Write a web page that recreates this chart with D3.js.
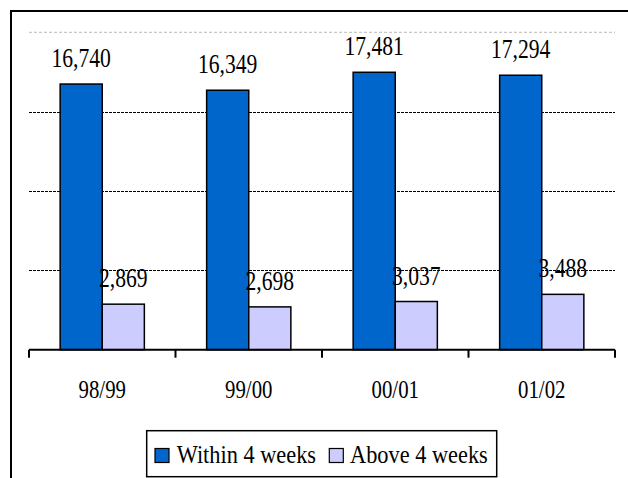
<!DOCTYPE html>
<html><head><meta charset="utf-8">
<script src="https://cdn.jsdelivr.net/npm/d3@7"></script>
<style>body{margin:0;background:#fff}svg{display:block}</style>
</head><body>
<script>
const categories = ["98/99", "99/00", "00/01", "01/02"];
const seriesNames = ["Within 4 weeks", "Above 4 weeks"];
const within4 = [16740, 16349, 17481, 17294];
const above4 = [2869, 2698, 3037, 3488];
const yTicks = [5000, 10000, 15000];
const yMax = 20000;
const colors = ["#0066CC", "#CCCCFF"];

const W = 628, H = 478;
const FONT = '"Liberation Serif"';
const svg = d3.select("body").append("svg").attr("width", W).attr("height", H);

// outer frame (cropped on right/bottom)
svg.append("path").attr("d", `M11,${H+5} L11,11 L${W+5},11`).attr("fill","none").attr("stroke","#000").attr("stroke-width",2);

const x0 = d3.scaleBand().domain(categories).range([29, 615]).paddingInner(0).paddingOuter(0);
const x1 = d3.scaleBand().domain(seriesNames).range([0, x0.bandwidth()]).paddingInner(0).paddingOuter(0.74);
const y = d3.scaleLinear().domain([0, yMax]).range([349.7, 32.3]);

// top light grid
svg.append("line").attr("x1",29).attr("x2",615).attr("y1",y(yMax)).attr("y2",y(yMax))
  .attr("stroke","#bbb").attr("stroke-width",1).attr("stroke-dasharray","3,2");
// grid lines
svg.append("g").selectAll("line").data(yTicks).join("line")
  .attr("x1",29).attr("x2",615).attr("y1",d=>Math.round(y(d))+0.5).attr("y2",d=>Math.round(y(d))+0.5)
  .attr("stroke","#000").attr("stroke-width",1.2).attr("stroke-dasharray","3,1");

const data = categories.map((c,i)=>({cat:c, vals:[within4[i], above4[i]]}));

const g = svg.append("g");
data.forEach(d=>{
  d.vals.forEach((v,j)=>{
    const bx = x0(d.cat) + x1(seriesNames[j]);
    g.append("rect").attr("x",bx).attr("y",y(v)).attr("width",x1.bandwidth()).attr("height",y(0)-y(v))
      .attr("fill",colors[j]).attr("stroke","#000").attr("stroke-width",1.5);
  });
});
// value labels
data.forEach(d=>{
  d.vals.forEach((v,j)=>{
    const cx = x0(d.cat) + x1(seriesNames[j]) + x1.bandwidth()/2;
    svg.append("text").attr("transform",`translate(${cx},${y(v)-17}) scale(0.8,1)`)
      .attr("text-anchor","middle").attr("font-size",27).style("font-family",FONT).attr("fill","#000")
      .text(d3.format(",")(v));
  });
});

// x axis
const axis = svg.append("g").attr("transform","translate(0,349.7)");
axis.append("line").attr("x1",29).attr("x2",615).attr("stroke","#000").attr("stroke-width",2);
const bounds = categories.map(c=>x0(c)).concat([x0(categories[categories.length-1])+x0.bandwidth()]);
axis.selectAll("line.t").data(bounds).join("line").attr("class","t")
  .attr("x1",d=>d).attr("x2",d=>d).attr("y1",0).attr("y2",8).attr("stroke","#000").attr("stroke-width",2);
categories.forEach(c=>{
  svg.append("text").attr("transform",`translate(${x0(c)+x0.bandwidth()/2},398) scale(0.8,1)`)
    .attr("text-anchor","middle").attr("font-size",26).style("font-family",FONT).text(c);
});

// legend
const lg = svg.append("g");
lg.append("rect").attr("x",146.7).attr("y",430.7).attr("width",350).attr("height",46).attr("fill","#fff")
  .attr("stroke","#000").attr("stroke-width",1.5);
const legX = [155, 329.3];
const legTX = [176.7, 350];
seriesNames.forEach((s,j)=>{
  lg.append("rect").attr("x",legX[j]).attr("y",448.5).attr("width",14).attr("height",14)
    .attr("fill",colors[j]).attr("stroke","#000").attr("stroke-width",1.2);
  lg.append("text").attr("transform",`translate(${legTX[j]},463) scale(0.86,1)`)
    .attr("font-size",26).style("font-family",FONT).text(s);
});
</script>
</body></html>
